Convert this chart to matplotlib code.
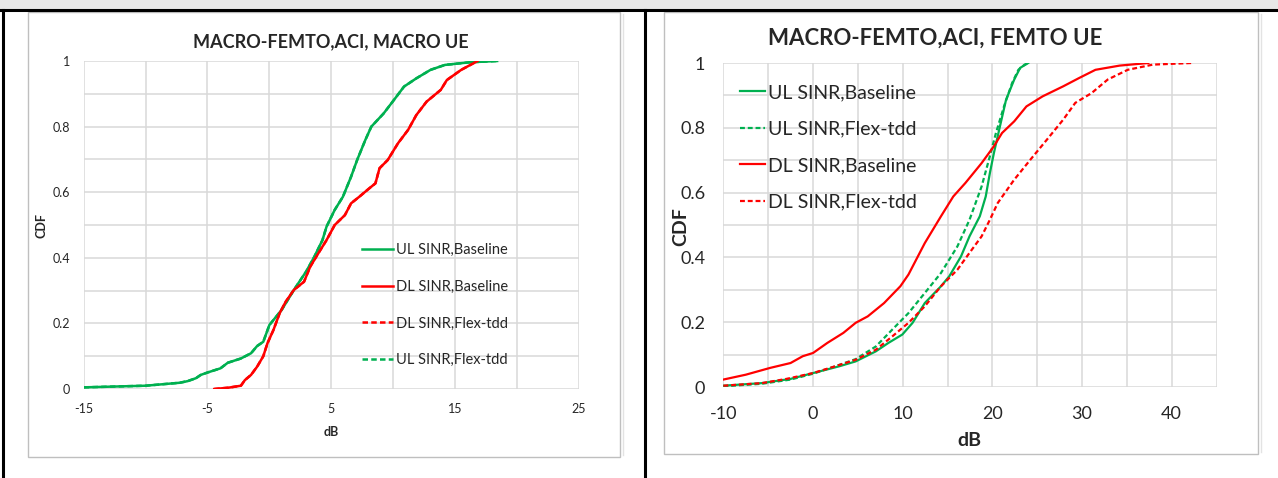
"""CDF of UL/DL SINR for macro and femto UEs, baseline vs flex-tdd."""

import matplotlib

matplotlib.use("Agg")
import matplotlib.pyplot as plt
from matplotlib.lines import Line2D
from matplotlib.patches import Rectangle

W, H = 1278, 478
GREEN = "#00b050"
RED = "#ff0000"
GRID = "#d9d9d9"
FRAME = "#bfbfbf"
DASH = (0, (2.2, 1.3))

plt.rcParams["font.family"] = ["Lato", "DejaVu Sans"]
plt.rcParams["axes.unicode_minus"] = False

# macro UE panel
macro_ul_base_db = [-15, -10, -7.25, -6.6, -5.93, -5.54, -4.94, -3.95, -3.36, -2.3,
                    -1.48, -0.99, -0.49, 0.0, 0.99, 1.98, 2.97, 3.63, 4.29, 4.62,
                    5.28, 5.94, 6.6, 7.09, 7.75, 8.24, 9.23, 10.06, 10.88, 11.87,
                    13.02, 14.18, 16.16, 18.4]
macro_ul_base_cdf = [0.005, 0.01, 0.019, 0.024, 0.033, 0.043, 0.051, 0.063, 0.08, 0.093,
                     0.109, 0.131, 0.144, 0.195, 0.241, 0.302, 0.358, 0.403, 0.454, 0.495,
                     0.546, 0.586, 0.647, 0.698, 0.759, 0.8, 0.84, 0.881, 0.922, 0.947,
                     0.973, 0.988, 0.996, 1.0]
macro_dl_base_db = [-4.45, -3.3, -2.3, -1.98, -1.48, -0.99, -0.49, -0.16, 0.33, 0.83,
                    1.32, 1.98, 2.8, 3.3, 3.96, 4.62, 5.28, 6.1, 6.6, 7.26,
                    8.08, 8.57, 8.9, 9.56, 10.39, 11.21, 11.87, 12.7, 13.85, 14.34,
                    15.5, 16.82]
macro_dl_base_cdf = [0.0, 0.004, 0.01, 0.027, 0.043, 0.068, 0.1, 0.139, 0.18, 0.231,
                     0.266, 0.302, 0.327, 0.373, 0.414, 0.454, 0.5, 0.53, 0.566, 0.586,
                     0.612, 0.627, 0.673, 0.698, 0.749, 0.79, 0.835, 0.876, 0.912, 0.942,
                     0.973, 1.0]
# flex-tdd gives the same curves as the baseline for macro UEs
macro_ul_flex_db, macro_ul_flex_cdf = macro_ul_base_db, macro_ul_base_cdf
macro_dl_flex_db, macro_dl_flex_cdf = macro_dl_base_db, macro_dl_base_cdf

# femto UE panel
femto_ul_base_db = [-10, -5.7, -2.5, 0, 2.93, 4.75, 7.0, 8.4, 9.96, 11.1,
                    12.46, 14.27, 15.2, 16.5, 17.45, 18.6, 19.26, 19.72, 20.17, 20.85,
                    21.53, 22.44, 23.1, 24.0]
femto_ul_base_cdf = [0.004, 0.012, 0.025, 0.043, 0.064, 0.079, 0.11, 0.136, 0.162, 0.198,
                     0.259, 0.311, 0.342, 0.403, 0.465, 0.527, 0.588, 0.66, 0.722, 0.805,
                     0.887, 0.949, 0.985, 1.0]
femto_ul_flex_db = [-10, -5.7, -2.5, 0, 2.48, 4.75, 7.0, 8.83, 10.64, 12.46,
                    14.27, 16.1, 17.45, 18.8, 19.72, 20.4, 21.3, 22.2, 22.9, 23.6, 24.0]
femto_ul_flex_cdf = [0.002, 0.01, 0.023, 0.041, 0.064, 0.086, 0.125, 0.177, 0.228, 0.29,
                     0.352, 0.434, 0.516, 0.619, 0.712, 0.784, 0.866, 0.938, 0.979, 0.995, 1.0]
femto_dl_base_db = [-10, -7.5, -4.78, -2.51, -1.15, 0, 1.59, 3.38, 4.75, 6.1,
                    7.92, 9.74, 10.64, 12.46, 14.27, 15.64, 17.0, 18.8, 20.17, 21.08,
                    22.44, 23.8, 25.6, 27.9, 29.7, 31.5, 34.2, 37.4]
femto_dl_base_cdf = [0.023, 0.038, 0.059, 0.074, 0.095, 0.105, 0.136, 0.167, 0.198, 0.218,
                     0.259, 0.311, 0.347, 0.444, 0.527, 0.588, 0.63, 0.691, 0.743, 0.784,
                     0.82, 0.866, 0.897, 0.928, 0.954, 0.979, 0.992, 1.0]
femto_dl_flex_db = [-10, -5.7, -2.97, 0, 2.48, 4.75, 7.0, 8.83, 10.64, 12.46,
                    14.27, 16.1, 17.45, 18.8, 19.72, 20.6, 22.44, 24.25, 26.07, 27.9,
                    29.25, 31.06, 32.87, 35.1, 37.9, 42.2]
femto_dl_flex_cdf = [0.004, 0.012, 0.025, 0.043, 0.064, 0.084, 0.115, 0.156, 0.198, 0.249,
                     0.311, 0.362, 0.414, 0.465, 0.516, 0.568, 0.64, 0.702, 0.763, 0.825,
                     0.877, 0.907, 0.949, 0.979, 0.995, 1.0]

cdf_ticks = [0, 0.2, 0.4, 0.6, 0.8, 1.0]
cdf_tick_labels = ["0", "0.2", "0.4", "0.6", "0.8", "1"]
macro_db_ticks = [-15, -5, 5, 15, 25]
femto_db_ticks = [-10, 0, 10, 20, 30, 40]


def fx(x):
    return x / W


def fy(y):
    return 1 - y / H


def add_axes_px(fig, x0, y0, x1, y1):
    return fig.add_axes([fx(x0), fy(y1), (x1 - x0) / W, (y1 - y0) / H])


def style_axes(ax, xlim, xticks, tick_size, xpad, ypad):
    ax.set_xlim(*xlim)
    ax.set_ylim(0, 1)
    ax.set_xticks(xticks)
    ax.set_xticks([v for v in range(xlim[0], xlim[1] + 1, 5)], minor=True)
    ax.set_yticks(cdf_ticks)
    ax.set_yticklabels(cdf_tick_labels)
    ax.set_yticks([i / 10 for i in range(11)], minor=True)
    ax.grid(True, which="both", color=GRID, linewidth=1.1)
    ax.set_axisbelow(True)
    for spine in ax.spines.values():
        spine.set_visible(False)
    ax.tick_params(which="both", length=0, labelsize=tick_size, colors="#262626")
    ax.tick_params(axis="x", pad=xpad)
    ax.tick_params(axis="y", pad=ypad)


fig = plt.figure(figsize=(W / 100, H / 100), dpi=100)

# table borders around the two panels
fig.patches.append(Rectangle((0, fy(9.5)), 1, 9.5 / H, transform=fig.transFigure,
                             facecolor="#e7e7e7", edgecolor="none"))
fig.add_artist(Line2D([0, 1], [fy(10), fy(10)], color="black", lw=2.2))
fig.add_artist(Line2D([fx(3), fx(3)], [0, fy(10)], color="black", lw=2.2))
fig.add_artist(Line2D([fx(645), fx(645)], [0, fy(10)], color="black", lw=2.2))
for x0, y0, x1, y1 in [(28, 12, 620, 457), (663.5, 12, 1258, 454)]:
    fig.patches.append(Rectangle((fx(x0), fy(y1)), (x1 - x0) / W, (y1 - y0) / H,
                                 transform=fig.transFigure, facecolor="none",
                                 edgecolor=FRAME, lw=1.0))
    fig.add_artist(Line2D([fx(x1 + 3), fx(x1 + 3)], [fy(y1 - 2), fy(y0 + 2)],
                          color="#e3e3e3", lw=1.0))

# left panel: macro UE
ax1 = add_axes_px(fig, 83.7, 61, 578.8, 389)
style_axes(ax1, (-15, 25), macro_db_ticks, 9, 10, 10)
ax1.plot(macro_dl_flex_db, macro_dl_flex_cdf, color=RED, lw=1.8, ls=DASH)
ax1.plot(macro_ul_flex_db, macro_ul_flex_cdf, color=GREEN, lw=1.8, ls=DASH)
ax1.plot(macro_ul_base_db, macro_ul_base_cdf, color=GREEN, lw=1.8)
ax1.plot(macro_dl_base_db, macro_dl_base_cdf, color=RED, lw=1.8)
fig.text(fx(331), fy(42), "MACRO-FEMTO,ACI, MACRO UE", ha="center", va="center",
         fontsize=13, fontweight="bold", color="#262626")
fig.text(fx(41), fy(225), "CDF", ha="center", va="center", rotation=90,
         fontsize=9, fontweight="bold", color="#262626")
fig.text(fx(331), fy(432), "dB", ha="center", va="center",
         fontsize=9, fontweight="bold", color="#262626")
handles1 = [
    Line2D([], [], color=GREEN, lw=1.8),
    Line2D([], [], color=RED, lw=1.8),
    Line2D([], [], color=RED, lw=1.8, ls=DASH),
    Line2D([], [], color=GREEN, lw=1.8, ls=DASH),
]
labels1 = ["UL SINR,Baseline", "DL SINR,Baseline", "DL SINR,Flex-tdd", "UL SINR,Flex-tdd"]
fig.legend(handles1, labels1, loc="upper left", bbox_to_anchor=(fx(362), fy(243)),
           frameon=False, fontsize=10.5, handlelength=2.1, handletextpad=0.2,
           labelspacing=1.56, borderpad=0, borderaxespad=0, labelcolor="#262626")

# right panel: femto UE
ax2 = add_axes_px(fig, 723.4, 63, 1216.5, 387)
style_axes(ax2, (-10, 45), femto_db_ticks, 13, 14, 13)
ax2.plot(femto_ul_base_db, femto_ul_base_cdf, color=GREEN, lw=1.6)
ax2.plot(femto_ul_flex_db, femto_ul_flex_cdf, color=GREEN, lw=1.6, ls=DASH)
ax2.plot(femto_dl_base_db, femto_dl_base_cdf, color=RED, lw=1.6)
ax2.plot(femto_dl_flex_db, femto_dl_flex_cdf, color=RED, lw=1.6, ls=DASH)
fig.text(fx(935), fy(38), "MACRO-FEMTO,ACI, FEMTO UE", ha="center", va="center",
         fontsize=16, fontweight="bold", color="#262626")
fig.text(fx(681), fy(227), "CDF", ha="center", va="center", rotation=90,
         fontsize=14, fontweight="bold", color="#262626")
fig.text(fx(969), fy(441), "dB", ha="center", va="center",
         fontsize=14, fontweight="bold", color="#262626")
handles2 = [
    Line2D([], [], color=GREEN, lw=1.6),
    Line2D([], [], color=GREEN, lw=1.6, ls=DASH),
    Line2D([], [], color=RED, lw=1.6),
    Line2D([], [], color=RED, lw=1.6, ls=DASH),
]
labels2 = ["UL SINR,Baseline", "UL SINR,Flex-tdd", "DL SINR,Baseline", "DL SINR,Flex-tdd"]
fig.legend(handles2, labels2, loc="upper left", bbox_to_anchor=(fx(740), fy(84)),
           frameon=False, fontsize=14, handlelength=1.3, handletextpad=0.15,
           labelspacing=1.0, borderpad=0, borderaxespad=0, labelcolor="#262626")

fig.savefig("out.png", dpi=100)
